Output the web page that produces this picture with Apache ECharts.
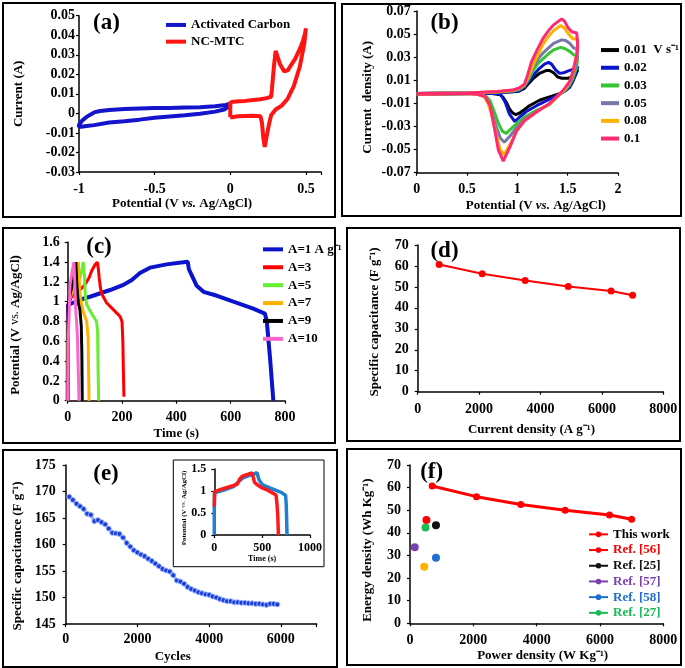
<!DOCTYPE html>
<html><head><meta charset="utf-8">
<script src="https://cdn.jsdelivr.net/npm/echarts@6/dist/echarts.min.js"></script>
<style>html,body{margin:0;padding:0;background:#fff}#c{width:685px;height:668px}</style>
</head><body><div id="c"></div>
<script>
// ---------- DATA ----------
// (a) CV loops: [potential V, current A]
const acCarbon = [[0,0.005],[-0.03,0.0043],[-0.1,0.0037],[-0.2,0.0032],[-0.3,0.003],[-0.4,0.0028],[-0.5,0.0027],[-0.6,0.0025],[-0.7,0.0022],[-0.8,0.0017],[-0.86,0.0012],[-0.9,0.0005],[-0.95,-0.0018],[-0.98,-0.0038],[-1,-0.0058],[-1,-0.007],[-0.95,-0.0065],[-0.9,-0.006],[-0.8,-0.0047],[-0.7,-0.004],[-0.6,-0.0032],[-0.5,-0.0022],[-0.4,-0.0016],[-0.3,-0.001],[-0.2,-0.0002],[-0.1,0.0009],[-0.04,0.002],[0,0.004],[0,0.005]];
const ncMtc = [[0,-0.002],[0,0.0055],[0.02,0.006],[0.06,0.0062],[0.1,0.0064],[0.15,0.0068],[0.2,0.0072],[0.24,0.0078],[0.27,0.0085],[0.275,0.012],[0.29,0.025],[0.3,0.032],[0.31,0.031],[0.33,0.025],[0.357,0.0215],[0.38,0.022],[0.4,0.0245],[0.43,0.028],[0.46,0.033],[0.48,0.037],[0.495,0.041],[0.5,0.0435],[0.49,0.036],[0.46,0.024],[0.42,0.014],[0.38,0.0075],[0.34,0.004],[0.3,0.002],[0.27,-0.001],[0.255,-0.006],[0.24,-0.012],[0.228,-0.0172],[0.218,-0.012],[0.21,-0.005],[0.2,-0.0015],[0.15,-0.0012],[0.1,-0.0013],[0.05,-0.0015],[0.01,-0.002],[0,-0.002]];

// (b) CV at different scan rates
const scanRates = ['0.01','0.02','0.03','0.05','0.08','0.1'];
const cv001 = [[0,-0.0015],[0.5,-0.001],[0.8,-0.0005],[0.95,0],[1.02,0.0008],[1.07,0.003],[1.12,0.008],[1.16,0.0117],[1.22,0.016],[1.29,0.0185],[1.32,0.0185],[1.36,0.0165],[1.4,0.013],[1.44,0.0118],[1.5,0.0118],[1.55,0.013],[1.6,0.019],[1.59,0.017],[1.55,0.009],[1.52,0.0044],[1.47,0.001],[1.42,-0.0015],[1.32,-0.0044],[1.22,-0.0073],[1.12,-0.012],[1.06,-0.016],[1.02,-0.0185],[0.985,-0.0198],[0.95,-0.018],[0.92,-0.0145],[0.89,-0.009],[0.86,-0.005],[0.83,-0.0025],[0.75,-0.0015],[0.5,-0.0015],[0,-0.002]];
const cv002 = [[0,-0.0015],[0.5,-0.001],[0.8,-0.0005],[0.95,0],[1.02,0.001],[1.07,0.004],[1.12,0.0095],[1.16,0.0146],[1.22,0.0204],[1.27,0.024],[1.31,0.0255],[1.34,0.024],[1.38,0.019],[1.42,0.016],[1.46,0.0165],[1.5,0.018],[1.55,0.0195],[1.6,0.022],[1.59,0.0175],[1.55,0.009],[1.52,0.004],[1.47,0.0005],[1.42,-0.002],[1.32,-0.0064],[1.19,-0.012],[1.09,-0.017],[1.02,-0.022],[0.975,-0.0257],[0.96,-0.025],[0.92,-0.019],[0.88,-0.009],[0.84,-0.003],[0.81,-0.0015],[0.5,-0.0015],[0,-0.002]];
const cv003 = [[0,-0.0015],[0.5,-0.001],[0.8,-0.0003],[0.95,0.0008],[1.02,0.002],[1.07,0.005],[1.12,0.012],[1.16,0.019],[1.21,0.025],[1.26,0.029],[1.31,0.033],[1.36,0.0364],[1.43,0.0385],[1.47,0.0375],[1.52,0.035],[1.56,0.032],[1.6,0.031],[1.59,0.022],[1.55,0.011],[1.52,0.006],[1.47,0.001],[1.42,-0.002],[1.32,-0.011],[1.19,-0.016],[1.07,-0.022],[1.0,-0.027],[0.95,-0.031],[0.89,-0.0359],[0.85,-0.034],[0.81,-0.027],[0.77,-0.017],[0.73,-0.008],[0.69,-0.004],[0.65,-0.002],[0.5,-0.0015],[0,-0.002]];
const cv005 = [[0,-0.0015],[0.5,-0.001],[0.8,-0.0002],[0.95,0.001],[1.02,0.0025],[1.07,0.006],[1.12,0.014],[1.16,0.022],[1.21,0.029],[1.26,0.034],[1.31,0.038],[1.36,0.042],[1.44,0.045],[1.48,0.0445],[1.52,0.042],[1.56,0.038],[1.6,0.0365],[1.59,0.026],[1.55,0.014],[1.52,0.007],[1.47,0.002],[1.42,-0.002],[1.32,-0.0105],[1.19,-0.017],[1.07,-0.024],[1.0,-0.03],[0.93,-0.038],[0.87,-0.0437],[0.83,-0.04],[0.79,-0.03],[0.75,-0.019],[0.71,-0.009],[0.67,-0.004],[0.6,-0.002],[0.5,-0.0015],[0,-0.002]];
const cv008 = [[0,-0.0015],[0.5,-0.001],[0.8,0],[0.95,0.0012],[1.02,0.003],[1.07,0.006],[1.12,0.015],[1.16,0.024],[1.21,0.033],[1.26,0.042],[1.31,0.048],[1.36,0.053],[1.43,0.0575],[1.47,0.055],[1.51,0.05],[1.55,0.046],[1.6,0.0455],[1.59,0.032],[1.55,0.016],[1.52,0.008],[1.47,0.002],[1.42,-0.002],[1.32,-0.0105],[1.19,-0.0175],[1.07,-0.025],[1.0,-0.033],[0.93,-0.045],[0.87,-0.0545],[0.83,-0.05],[0.79,-0.037],[0.75,-0.022],[0.71,-0.01],[0.67,-0.004],[0.6,-0.002],[0.5,-0.0015],[0,-0.002]];
const cv010 = [[0,-0.0015],[0.5,-0.001],[0.8,0.0003],[0.95,0.0015],[1.02,0.0035],[1.07,0.0065],[1.1,0.014],[1.14,0.026],[1.2,0.037],[1.26,0.047],[1.31,0.053],[1.36,0.058],[1.44,0.0632],[1.47,0.061],[1.5,0.056],[1.54,0.052],[1.59,0.051],[1.6,0.05],[1.6,0.04],[1.59,0.032],[1.55,0.017],[1.52,0.009],[1.47,0.003],[1.42,-0.002],[1.32,-0.01],[1.19,-0.0175],[1.07,-0.025],[0.99,-0.034],[0.93,-0.047],[0.86,-0.06],[0.81,-0.05],[0.78,-0.035],[0.73,-0.012],[0.68,-0.004],[0.6,-0.002],[0.5,-0.0015],[0,-0.002]];

// (c) GCD curves: [time s, potential V]
const gcdLabels = ['A=1 A g\u207B\u00B9','A=3','A=5','A=7','A=9','A=10'];
const gcd1 = [[0,0],[1,0.97],[9,0.977],[45,1.02],[82,1.05],[156,1.118],[205,1.17],[236,1.22],[266,1.29],[303,1.344],[364,1.377],[425,1.398],[442,1.404],[446,1.33],[456,1.27],[475,1.16],[500,1.1],[550,1.06],[610,1.0],[683,0.93],[726,0.88],[733,0.8],[745,0.43],[757,0]];
const gcd3 = [[0,0],[2,0.98],[15,1.05],[30,1.1],[45,1.12],[60,1.16],[70,1.2],[80,1.25],[88,1.31],[100,1.37],[109,1.4],[113,1.33],[116,1.24],[120,1.15],[125,1.08],[135,1.03],[143,0.99],[168,0.92],[193,0.85],[200,0.8],[203,0.6],[205,0.3],[207,0.04]];
const gcd5 = [[0,0],[3,1.0],[20,1.12],[35,1.2],[45,1.24],[52,1.32],[57.5,1.4],[62,1.25],[65,1.05],[70,0.97],[88,0.88],[106,0.8],[110,0.7],[112,0.3],[114,0]];
const gcd7 = [[0,0],[3,1.0],[15,1.1],[25,1.2],[33,1.3],[39,1.4],[42,1.24],[45,1.07],[57,0.9],[70,0.8],[75,0.65],[77,0.3],[78.6,0]];
const gcd9 = [[0,0],[3,1.0],[15,1.15],[25,1.3],[30,1.4],[33,1.2],[38,1.0],[45,0.92],[50,0.75],[52,0.5],[53.6,0]];
const gcd10 = [[0,0],[2,0.6],[8.6,1.17],[16,1.3],[23,1.4],[26,1.2],[29,0.94],[35.5,0.67],[38,0.4],[41.7,0]];

// (d) specific capacitance vs current density
const rateCurrent = [700,2100,3500,4900,6300,7000];
const rateCap = [60.7,56.3,53.1,50.2,48.0,46.0];

// (e) cycling stability
const cycleNums = [100,200,300,400,500,600,700,800,900,1000,1100,1200,1300,1400,1500,1600,1700,1800,1900,2000,2100,2200,2300,2400,2500,2600,2700,2800,2900,3000,3100,3200,3300,3400,3500,3600,3700,3800,3900,4000,4100,4200,4300,4400,4500,4600,4700,4800,4900,5000,5100,5200,5300,5400,5500,5600,5700,5800,5900];
const cycleCap = [169.0,168.4,167.7,167.2,166.7,165.8,165.6,164.4,164.6,164.2,163.8,163.0,162.2,162.1,162.0,161.3,160.3,159.6,158.9,158.5,158.1,157.8,157.3,156.9,156.4,155.9,155.4,155.1,154.9,154.2,153.2,153.0,152.6,152.0,151.6,151.3,151.0,150.8,150.6,150.5,150.2,150.0,149.7,149.5,149.3,149.3,149.1,149.1,149.0,149.0,148.9,148.9,148.8,148.8,148.7,148.6,148.8,148.8,148.7];
// (e) inset GCD: first and last cycles
const insetFirst = [[0,0],[0,0.65],[3,0.96],[100,1.02],[200,1.1],[260,1.22],[300,1.3],[360,1.35],[420,1.39],[445,1.42],[455,1.38],[468,1.25],[504,1.14],[592,1.06],[699,0.97],[745,0.9],[752,0.68],[760,0]];
const insetLast = [[0,0.65],[3,0.98],[60,1.03],[150,1.09],[238,1.15],[265,1.27],[290,1.33],[340,1.37],[395,1.41],[405,1.33],[420,1.2],[450,1.14],[500,1.07],[557,1.02],[645,0.91],[655,0.7],[663,0.45],[670,0]];

// (f) Ragone plot
const ragonePower = [700,2100,3500,4900,6300,7000];
const ragoneEnergy = [60.7,56.0,52.5,50.0,47.9,46.0];
const refNames = ['Ref. [56]','Ref. [25]','Ref. [57]','Ref. [58]','Ref. [27]','Ref. (other)'];
const refPower = [520,820,150,820,490,450];
const refEnergy = [45.7,43.4,33.6,29.0,42.4,25.0];

// ---------- STYLE / LAYOUT ----------
const FF = '"Liberation Serif","Times New Roman",serif';
const grids = [
  {left:79, top:15.7, width:242, height:156.3},      // a
  {left:416.7, top:11, width:201.3, height:161.7},   // b
  {left:67.7, top:242.3, width:217.3, height:158.4}, // c
  {left:417.7, top:245, width:245.6, height:146.7},  // d
  {left:65.7, top:465, width:251, height:159},       // e
  {left:214.3, top:469, width:95.7, height:66},      // inset
  {left:410, top:465, width:253.3, height:158.3}     // f
].map(g => Object.assign({outerBoundsMode:'none', containLabel:false}, g));

function ax(gi, min, max, interval, o) {
  o = o || {};
  const fs = o.fs || 14;
  const a = {
    type:'value', gridIndex:gi, min:min, max:max, interval:interval,
    axisLine:{show:true, onZero:false, lineStyle:{color:'#000', width:1.5}},
    axisTick:{show:true, inside:false, length:3, lineStyle:{color:'#000', width:1.2}},
    splitLine:{show:false},
    axisLabel:{fontFamily:FF, fontWeight:'bold', fontSize:fs, color:'#000', margin:o.margin || 8,
      formatter:o.fmt || (v => String(Math.round(v * 10000) / 10000))},
    name:o.name || '', nameLocation:'middle', nameGap:o.gap || 25,
    nameTextStyle:{fontFamily:FF, fontWeight:'bold', fontSize:o.nfs || 13, color:'#000',
      padding:o.pad || [0,0,0,0],
      rich:{i:{fontFamily:FF, fontStyle:'italic', fontWeight:'bold', fontSize:o.nfs || 13, color:'#000'},
            n:{fontFamily:FF, fontWeight:'normal', fontSize:(o.nfs || 13) - 1, color:'#000'}}}
  };
  if (o.custom) { a.axisLabel.customValues = o.custom; a.axisTick.customValues = o.custom; }
  if (o.rotate) a.nameRotate = 90;
  return a;
}

const xAxes = [
  ax(0, -1, 0.6, 0.5, {margin:10, name:'Potential (V {i|vs.} Ag/AgCl)', gap:24, pad:[0,36,0,0], fmt:v => v > 0.55 ? '' : String(v)}),
  ax(1, 0, 2, 0.5, {margin:10, name:'Potential (V {i|vs.} Ag/AgCl)', gap:26, pad:[0,0,0,37]}),
  ax(2, 0, 800, 200, {margin:10, name:'Time (s)', gap:26}),
  ax(3, 0, 8000, 2000, {margin:11, name:'Current density (A g\u207B\u00B9)', gap:31, pad:[0,18,0,0]}),
  ax(4, 0, 7000, 2000, {margin:8, name:'Cycles', gap:26, pad:[0,37,0,0], fmt:v => v > 6500 ? '' : String(v)}),
  ax(5, 0, 1000, 500, {margin:7, fs:12, name:'Time (s)', nfs:8, gap:20}),
  ax(6, 0, 8000, 2000, {margin:10, name:'Power density (W Kg\u207B\u00B9)', gap:26, pad:[0,0,0,12]})
];
const bTicks = [-0.07,-0.05,-0.03,-0.01,0.01,0.03,0.05,0.07];
const yAxes = [
  ax(0, -0.03, 0.05, 0.01, {margin:4, name:'Current (A)', gap:54, rotate:true}),
  ax(1, -0.07, 0.07, 0.02, {margin:6, name:'Current  density (A)', gap:43, rotate:true, pad:[0,11,0,0], custom:bTicks, fmt:v => String(Math.round(v*100)/100)}),
  ax(2, 0, 1.6, 0.2, {margin:8, name:'Potential (V {n|vs.} Ag/AgCl)', gap:46, rotate:true, pad:[0,7,0,0]}),
  ax(3, 0, 70, 10, {margin:9, name:'Specific capacitance (F g\u207B\u00B9)', gap:37, rotate:true, pad:[0,7,0,0]}),
  ax(4, 145, 175, 5, {margin:10, name:'Specific capacitance (F g\u207B\u00B9)', gap:42, rotate:true, pad:[0,23,0,0]}),
  ax(5, 0, 1.5, 0.5, {margin:8, fs:12, name:'Potential (V {n|vs.} Ag/AgCl)', nfs:7, gap:26, rotate:true, pad:[0,12,0,0]}),
  ax(6, 0, 70, 10, {margin:9, name:'Energy density (Wh Kg\u207B\u00B9)', gap:36, rotate:true, pad:[0,12,0,0]})
];

function lineS(name, data, gi, color, width, extra) {
  return Object.assign({type:'line', name:name, data:data, xAxisIndex:gi, yAxisIndex:gi,
    symbol:'none', smooth:false, color:color, lineStyle:{color:color, width:width},
    animation:false}, extra || {});
}

const series = [];
series.push(lineS('Activated Carbon', acCarbon, 0, '#1414cc', 4));
series.push(lineS('NC-MTC', ncMtc, 0, '#ff1414', 4));

const cvSets = [cv001, cv002, cv003, cv005, cv008, cv010];
const cvColors = ['#000000','#0a14cc','#33c533','#7678a6','#ffb300','#ff2a70'];
cvSets.forEach((d, i) => series.push(lineS(scanRates[i], d, 1, cvColors[i], 3)));

const gcdSets = [gcd1, gcd3, gcd5, gcd7, gcd9, gcd10];
const gcdColors = ['#0a14cc','#ff0000','#66ee33','#ffb000','#000000','#ff66cc'];
gcdSets.forEach((d, i) => series.push(lineS(gcdLabels[i], d, 2, gcdColors[i], i === 0 ? 4 : 3)));

series.push(lineS('Capacitance vs current density', rateCurrent.map((x, i) => [x, rateCap[i]]), 3, '#ff0000', 2,
  {symbol:'circle', symbolSize:7, itemStyle:{color:'#ff0000'}}));

series.push(lineS('Cycling', cycleNums.map((x, i) => [x, cycleCap[i]]), 4, '#1a3ddb', 2,
  {symbol:'circle', symbolSize:5, showAllSymbol:true, lineStyle:{color:'#8fb0ff', width:3},
   itemStyle:{color:'#1a3ddb', borderColor:'#9cb8ff', borderWidth:1}}));

series.push(lineS('Inset first', insetFirst, 5, '#1f7fd0', 3.5));
series.push(lineS('Inset last', insetLast, 5, '#ff1a1a', 3.5));

series.push(lineS('This work', ragonePower.map((x, i) => [x, ragoneEnergy[i]]), 6, '#ff0000', 3,
  {symbol:'circle', symbolSize:7, itemStyle:{color:'#ff0000'}}));
const refColors = ['#ff0000','#111111','#7a3fb0','#1e6fd0','#1db954','#ffb300'];
refNames.forEach((n, i) => series.push(lineS(n, [[refPower[i], refEnergy[i]]], 6, refColors[i], 3,
  {symbol:'circle', symbolSize:8, itemStyle:{color:refColors[i]}})));

const legBase = {orient:'vertical', padding:0, itemGap:0, selectedMode:false,
  textStyle:{fontFamily:FF, fontWeight:'bold', fontSize:13, color:'#000'}};
const legends = [
  Object.assign({}, legBase, {left:166, top:16.6, itemWidth:20, itemHeight:4, icon:'rect',
    data:['Activated Carbon','NC-MTC'], textStyle:Object.assign({}, legBase.textStyle, {lineHeight:16.7})}),
  Object.assign({}, legBase, {left:601, top:41.2, itemWidth:18, itemHeight:4, icon:'rect',
    data:scanRates, formatter:n => n === '0.01' ? '0.01  V s\u207B\u00B9' : n,
    textStyle:Object.assign({}, legBase.textStyle, {lineHeight:17.7})}),
  Object.assign({}, legBase, {left:263, top:240.4, itemWidth:20, itemHeight:4, icon:'rect',
    data:gcdLabels, textStyle:Object.assign({}, legBase.textStyle, {lineHeight:17.9})}),
  Object.assign({}, legBase, {left:588, top:526.5, itemWidth:19, itemHeight:7,
    data:[{name:'This work', textStyle:{color:'#000'}}].concat(refNames.slice(0, 5).map((n, i) => ({name:n, textStyle:{color:refColors[i]}}))),
    textStyle:Object.assign({}, legBase.textStyle, {lineHeight:15.7})})
];

function letter(t, x, y) {
  return {type:'text', x:x, y:y, silent:true, z:10,
    style:{text:t, font:'bold 23px ' + FF, fill:'#000', align:'center', verticalAlign:'middle', textAlign:'center', textVerticalAlign:'middle'}};
}
function box(x, y, w, h, lw) {
  return {type:'rect', silent:true, z:0, shape:{x:x, y:y, width:w, height:h}, style:{fill:'none', stroke:'#000', lineWidth:lw}};
}
const graphic = [
  box(3, 3, 332, 214, 2), box(342, 4, 339, 212, 2), box(3, 228, 332, 215, 2),
  box(347, 228, 333, 213, 2), box(3, 450, 334, 217, 2), box(347, 449, 334, 216, 2),
  box(173.3, 460, 150.7, 106.7, 1),
  letter('(a)', 106.5, 23), letter('(b)', 444.5, 23), letter('(c)', 99, 247.5),
  letter('(d)', 444.5, 251.3), letter('(e)', 106, 474), letter('(f)', 431.7, 472.5)
];

const chart = echarts.init(document.getElementById('c'), null, {renderer:'canvas'});
chart.setOption({
  backgroundColor:'#ffffff',
  animation:false,
  grid:grids, xAxis:xAxes, yAxis:yAxes, legend:legends, series:series, graphic:graphic
});
</script></body></html>
